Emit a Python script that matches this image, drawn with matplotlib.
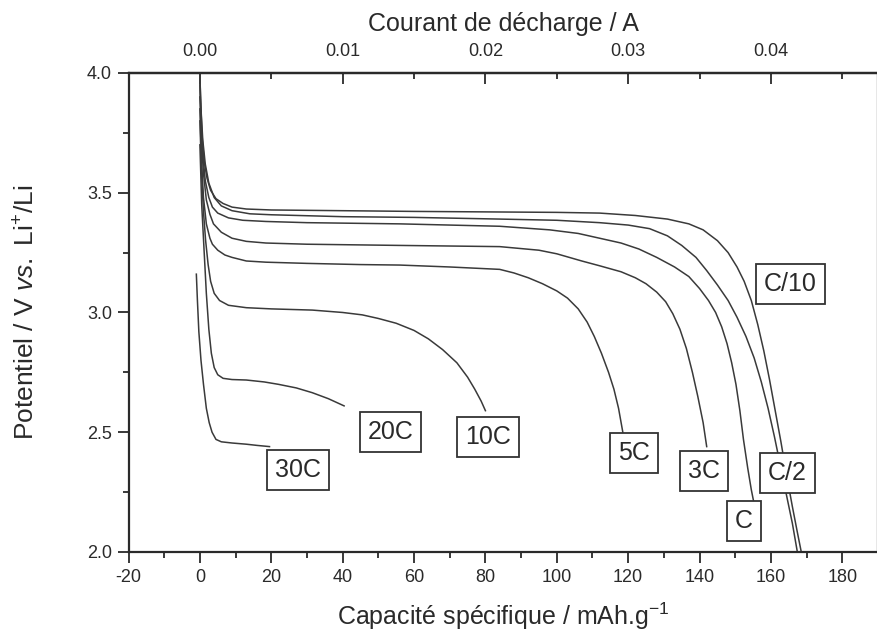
import matplotlib
matplotlib.use("Agg")
import matplotlib.pyplot as plt
from matplotlib.ticker import MultipleLocator, FixedLocator

plt.rcParams['font.family'] = ['Liberation Sans', 'DejaVu Sans']
plt.rcParams['mathtext.fontset'] = 'custom'
plt.rcParams['mathtext.rm'] = 'Liberation Sans'
plt.rcParams['mathtext.it'] = 'Liberation Sans:italic'

# ---- data (specific capacity mAh/g, potential V) ----
cap_c10 = [0, 0.2, 0.6, 1.2, 2, 3, 4.5, 6.5, 9, 13, 20, 40, 60, 80, 100, 112, 122, 131, 137,
           141, 145, 148, 150.5, 152.5, 154.5, 156.3, 158, 159.6, 161.2, 162.8, 164.4, 166,
           167.3, 168.5]
v_c10 = [4.0, 3.88, 3.74, 3.63, 3.56, 3.51, 3.475, 3.455, 3.44, 3.432, 3.428, 3.425, 3.422, 3.42,
         3.418, 3.415, 3.405, 3.39, 3.37, 3.345, 3.30, 3.25, 3.19, 3.13, 3.05, 2.95, 2.84, 2.72,
         2.59, 2.46, 2.32, 2.19, 2.09, 2.0]

cap_c2 = [0, 0.3, 0.8, 1.5, 2.5, 4, 6, 9, 14, 20, 40, 60, 84, 100, 112, 120, 126, 131, 135, 139,
          142, 145, 148, 150.5, 153, 155.3, 157.3, 159.2, 161, 162.8, 164.6, 166, 167.4]
v_c2 = [3.98, 3.85, 3.72, 3.62, 3.54, 3.48, 3.445, 3.425, 3.412, 3.408, 3.40, 3.397, 3.39, 3.385,
        3.375, 3.365, 3.35, 3.32, 3.28, 3.23, 3.175, 3.115, 3.05, 2.98, 2.90, 2.81, 2.71, 2.60,
        2.48, 2.35, 2.22, 2.12, 2.0]

cap_c1 = [0, 0.3, 0.8, 1.5, 2.5, 3.5, 5, 8, 12, 18.5, 30, 56, 84, 98, 106, 112, 118, 123, 128,
          133, 137, 140, 142.5, 144.5, 146.2, 147.7, 149, 150.2, 151.3, 152.3, 153.5, 154.5, 155.3]
v_c1 = [3.95, 3.8, 3.66, 3.55, 3.48, 3.44, 3.415, 3.395, 3.385, 3.38, 3.375, 3.37, 3.36, 3.345,
        3.33, 3.31, 3.29, 3.265, 3.23, 3.19, 3.15, 3.10, 3.05, 3.0, 2.94, 2.87, 2.79, 2.70, 2.59,
        2.47, 2.35, 2.26, 2.20]

cap_3c = [0, 0.4, 1, 1.8, 2.8, 3.8, 6, 9, 13, 18.5, 30, 56, 84, 95, 100, 107, 112, 118, 122,
          125, 128, 130.5, 132.5, 134.5, 136.3, 138, 139.5, 141, 142]
v_3c = [3.9, 3.72, 3.58, 3.47, 3.41, 3.37, 3.335, 3.31, 3.297, 3.29, 3.285, 3.28, 3.275, 3.26,
        3.245, 3.215, 3.195, 3.17, 3.145, 3.12, 3.085, 3.045, 2.995, 2.93, 2.85, 2.75, 2.65, 2.54,
        2.44]

cap_5c = [0, 0.4, 1, 1.8, 2.8, 3.5, 5, 7, 9, 13, 18.5, 30, 45, 56, 70, 84, 88, 92, 96, 100, 103,
          106, 108.5, 110.5, 112.5, 114.5, 116, 117.3, 118.5]
v_5c = [3.85, 3.65, 3.48, 3.37, 3.31, 3.285, 3.26, 3.24, 3.23, 3.215, 3.21, 3.205, 3.20, 3.198,
        3.19, 3.18, 3.165, 3.145, 3.12, 3.09, 3.06, 3.015, 2.96, 2.90, 2.83, 2.75, 2.68, 2.60,
        2.50]

cap_10c = [0, 0.4, 1, 1.6, 2.3, 3, 4, 5.5, 8, 13, 20, 31.5, 40, 45.5, 50, 55, 60, 64, 68, 72, 75,
           77, 78.8, 80]
v_10c = [3.8, 3.6, 3.42, 3.3, 3.2, 3.13, 3.08, 3.05, 3.03, 3.02, 3.015, 3.01, 3.0, 2.99, 2.975,
         2.955, 2.925, 2.89, 2.845, 2.79, 2.73, 2.68, 2.63, 2.59]

cap_20c = [0, 0.5, 1.2, 1.8, 2.5, 3.2, 4, 5, 6.5, 9, 13, 18, 22, 27, 31.5, 36, 40.4]
v_20c = [3.7, 3.45, 3.25, 3.08, 2.93, 2.83, 2.77, 2.74, 2.725, 2.72, 2.718, 2.71, 2.70, 2.685,
         2.665, 2.64, 2.61]

cap_30c = [-1, -0.7, -0.3, 0.3, 1, 1.8, 2.6, 3.4, 4.5, 6, 9, 13, 16, 19.5]
v_30c = [3.16, 3.05, 2.92, 2.8, 2.7, 2.6, 2.54, 2.5, 2.47, 2.46, 2.455, 2.45, 2.445, 2.44]

rate_labels = ['C/10', 'C/2', 'C', '3C', '5C', '10C', '20C', '30C']
caps = [cap_c10, cap_c2, cap_c1, cap_3c, cap_5c, cap_10c, cap_20c, cap_30c]
volts = [v_c10, v_c2, v_c1, v_3c, v_5c, v_10c, v_20c, v_30c]

# label anchors (data coords)
label_x = [165.5, 164.6, 152.4, 141.3, 121.6, 80.7, 53.4, 27.6]
label_y = [3.121, 2.330, 2.129, 2.338, 2.413, 2.482, 2.499, 2.342]

x_ticks = list(range(-20, 181, 20))
y_ticks = [2.0, 2.5, 3.0, 3.5, 4.0]
current_ticks = [0.00, 0.01, 0.02, 0.03, 0.04]
CAP_PER_AMP = 4000.0

# ---- figure ----
txt = '#2a2a2a'
fig = plt.figure(figsize=(8.78, 6.33), dpi=100)
ax = fig.add_axes([0.1464, 0.128, 0.8536, 0.7567])

for c, v in zip(caps, volts):
    ax.plot(c, v, color='#3a3a3a', lw=1.1)

for lab, lx, ly in zip(rate_labels, label_x, label_y):
    ax.text(lx, ly, lab, ha='center', va='center', fontsize=18, color=txt,
            bbox=dict(boxstyle='square,pad=0.32', fc='white', ec='#333333', lw=1.3))

ax.set_xlim(-20, 190)
ax.set_ylim(2.0, 4.0)
ax.set_xticks(x_ticks)
ax.set_xticklabels([str(t) for t in x_ticks])
ax.xaxis.set_minor_locator(MultipleLocator(10))
ax.set_yticks(y_ticks)
ax.set_yticklabels([f'{t:.1f}' for t in y_ticks])
ax.yaxis.set_minor_locator(MultipleLocator(0.25))
ax.tick_params(which='both', direction='out', colors=txt, width=1.3, labelsize=13, pad=4)
ax.tick_params(which='major', length=8)
ax.tick_params(which='minor', length=4.5)
for s in ax.spines.values():
    s.set_linewidth(1.6)
    s.set_color('#2a2a2a')

ax.set_xlabel('Capacité spécifique / mAh.g$^{-1}$', fontsize=18, color=txt, labelpad=11)
ax.set_ylabel('Potentiel / V $\\it{vs.}$ Li$^{+}$/Li', fontsize=19, color=txt, labelpad=34)

sec = ax.secondary_xaxis('top', functions=(lambda c: c / CAP_PER_AMP, lambda a: a * CAP_PER_AMP))
sec.set_xticks(current_ticks)
sec.set_xticklabels([f'{t:.2f}' for t in current_ticks])
sec.xaxis.set_minor_locator(FixedLocator([-0.005, 0.005, 0.015, 0.025, 0.035, 0.045]))
sec.tick_params(which='both', direction='in', colors=txt, width=1.3, labelsize=13, pad=9)
sec.tick_params(which='major', length=8)
sec.tick_params(which='minor', length=4.5)
sec.spines['top'].set_linewidth(1.6)
sec.set_xlabel('Courant de décharge / A', fontsize=18, color=txt, labelpad=9)

fig.savefig('out.png', dpi=100)
